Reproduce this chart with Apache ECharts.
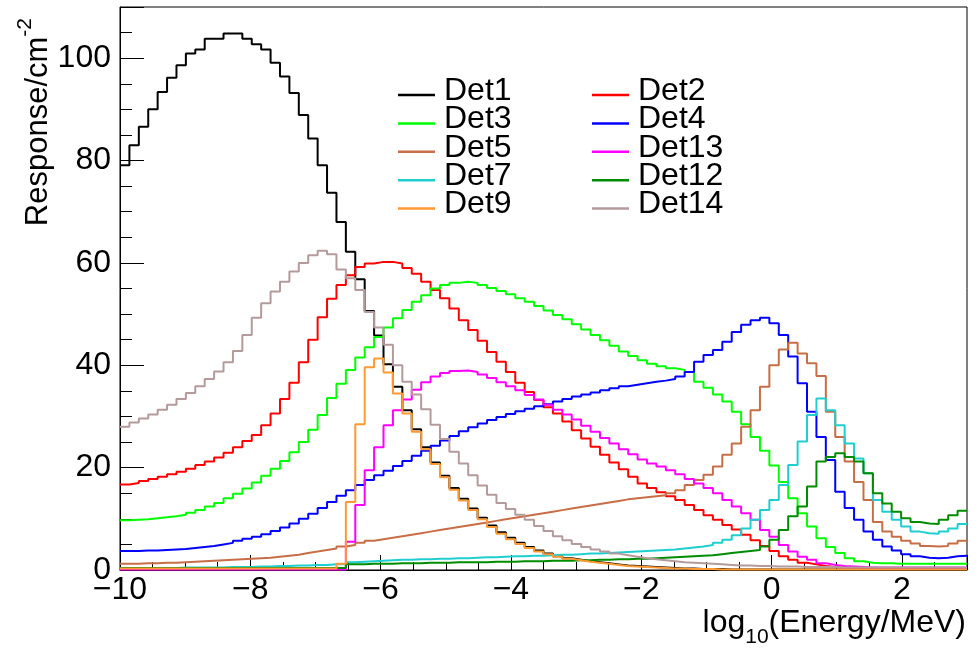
<!DOCTYPE html>
<html>
<head>
<meta charset="utf-8">
<script src="https://cdn.jsdelivr.net/npm/echarts@6/dist/echarts.min.js"></script>
<style>
  html, body { margin: 0; padding: 0; background: #fff; }
  #chart { width: 979px; height: 648px; }
</style>
</head>
<body>
<div id="chart"></div>
<script>
// histogram range: 90 bins from -10 to 3 in log10(E/MeV)
var xMin = -10;
var xMax = 3;

var names = ['Det1', 'Det2', 'Det3', 'Det4', 'Det5', 'Det13', 'Det7', 'Det12', 'Det9', 'Det14'];
var legendLeft = ['Det1', 'Det3', 'Det5', 'Det7', 'Det9'];
var legendRight = ['Det2', 'Det4', 'Det13', 'Det12', 'Det14'];

var det1 = [
  79.1, 83.0, 86.6, 90.0, 93.4, 96.2, 98.6, 100.9, 101.7, 103.8,
  103.8, 104.8, 104.8, 103.8, 102.7, 101.7, 99.1, 96.4, 93.2, 88.9,
  84.3, 79.1, 73.7, 68.0, 62.2, 56.8, 50.6, 45.8, 40.2, 35.8,
  31.2, 27.5, 24.0, 21.0, 18.4, 16.0, 13.9, 12.0, 10.2, 8.7,
  7.4, 6.3, 5.3, 4.5, 3.8, 3.2, 2.7, 2.3, 2.0, 1.7,
  1.5, 1.3, 1.1, 0.9, 0.8, 0.7, 0.6, 0.5, 0.4, 0.3,
  0.3, 0.2, 0.2, 0.2, 0.1, 0.1, 0.1, 0.1, 0.1, 0.1,
  0.1, 0.1, 0.1, 0.1, 0.1, 0.1, 0.1, 0.1, 0.1, 0.1,
  0.1, 0.1, 0.1, 0.1, 0.1, 0.1, 0.1, 0.1, 0.1, 0.1
];
var det2 = [
  16.7, 17.0, 17.4, 17.8, 18.2, 18.7, 19.2, 19.8, 20.5, 21.2,
  22.0, 22.9, 24.0, 25.2, 26.4, 28.3, 30.6, 33.4, 36.6, 40.6,
  45.0, 49.4, 53.0, 55.7, 57.6, 59.2, 59.9, 60.2, 60.2, 59.9,
  59.0, 57.9, 56.3, 54.7, 53.1, 51.1, 48.8, 46.9, 44.8, 42.6,
  40.7, 38.7, 36.6, 34.8, 33.2, 31.8, 30.6, 29.0, 27.3, 25.7,
  24.1, 22.5, 21.0, 19.7, 18.2, 16.9, 16.0, 15.2, 14.4, 13.7,
  12.7, 11.7, 10.7, 9.8, 8.8, 7.9, 6.9, 5.8, 4.7, 3.7,
  2.7, 2.0, 1.4, 1.1, 0.8, 0.6, 0.5, 0.5, 0.4, 0.4,
  0.4, 0.3, 0.3, 0.3, 0.3, 0.3, 0.3, 0.3, 0.3, 0.3
];
var det3 = [
  9.7, 9.8, 9.9, 10.1, 10.3, 10.5, 10.8, 11.2, 11.7, 12.4,
  13.1, 14.0, 14.9, 15.9, 17.1, 18.4, 19.8, 21.3, 23.0, 25.0,
  27.4, 30.3, 33.6, 36.4, 39.1, 41.5, 43.5, 45.5, 47.4, 49.2,
  50.8, 52.4, 53.7, 55.0, 55.7, 56.1, 56.3, 56.1, 55.7, 55.1,
  54.5, 53.9, 53.1, 52.4, 51.6, 50.7, 49.8, 49.0, 48.0, 47.0,
  45.9, 44.9, 43.8, 42.7, 41.8, 41.0, 40.3, 39.8, 39.4, 39.1,
  38.7, 36.8, 35.6, 34.3, 32.9, 30.9, 28.5, 26.0, 23.3, 20.4,
  17.2, 14.0, 11.1, 8.5, 6.2, 4.5, 3.3, 2.3, 1.7, 1.4,
  1.3, 1.3, 1.2, 1.2, 1.2, 1.2, 1.2, 1.2, 1.2, 1.2
];
var det4 = [
  3.7, 3.7, 3.8, 3.8, 3.9, 4.0, 4.1, 4.3, 4.5, 4.7,
  5.0, 5.3, 5.7, 6.1, 6.5, 7.0, 7.6, 8.3, 9.1, 10.0,
  11.0, 12.1, 13.3, 14.5, 15.6, 16.6, 17.6, 18.5, 19.4, 20.3,
  21.3, 22.3, 23.3, 24.3, 25.3, 26.2, 27.1, 27.9, 28.6, 29.3,
  29.9, 30.5, 31.0, 31.5, 32.0, 32.4, 32.9, 33.4, 33.9, 34.3,
  34.7, 35.1, 35.5, 35.9, 36.2, 36.5, 36.8, 37.0, 37.3, 37.8,
  38.7, 40.7, 42.0, 43.0, 44.6, 46.5, 47.9, 48.8, 49.3, 48.2,
  45.9, 41.7, 36.5, 30.9, 26.0, 21.5, 15.3, 12.1, 9.8, 7.5,
  5.9, 4.6, 3.8, 3.1, 2.7, 2.4, 2.3, 2.4, 2.7, 2.8
];
var det5 = [
  1.2, 1.2, 1.3, 1.3, 1.4, 1.4, 1.5, 1.6, 1.7, 1.8,
  1.9, 2.0, 2.1, 2.2, 2.3, 2.4, 2.6, 2.8, 3.0, 3.3,
  3.6, 3.9, 4.2, 4.6, 4.9, 5.3, 5.7, 6.0, 6.3, 6.6,
  6.9, 7.2, 7.5, 7.8, 8.1, 8.4, 8.7, 9.0, 9.3, 9.6,
  9.9, 10.2, 10.5, 10.8, 11.1, 11.4, 11.7, 12.0, 12.3, 12.6,
  12.9, 13.2, 13.5, 13.8, 14.0, 14.2, 14.4, 14.6, 15.0, 15.6,
  16.6, 17.6, 18.6, 20.2, 22.5, 24.7, 28.0, 31.2, 35.8, 40.0,
  43.1, 44.4, 42.3, 40.4, 37.9, 30.9, 26.0, 21.2, 17.2, 13.7,
  9.4, 7.5, 6.5, 5.7, 5.2, 4.7, 4.6, 4.7, 5.2, 5.7
];
var det7 = [
  0.4, 0.4, 0.4, 0.4, 0.4, 0.4, 0.5, 0.5, 0.5, 0.5,
  0.5, 0.6, 0.6, 0.6, 0.7, 0.7, 0.8, 0.8, 0.9, 0.9,
  1.0, 1.0, 1.1, 1.1, 1.5, 1.6, 1.7, 1.8, 1.9, 2.0,
  2.0, 2.1, 2.1, 2.2, 2.2, 2.3, 2.3, 2.4, 2.5, 2.5,
  2.6, 2.7, 2.7, 2.8, 2.8, 2.9, 3.0, 3.0, 3.1, 3.2,
  3.2, 3.3, 3.4, 3.5, 3.6, 3.7, 3.8, 3.9, 4.0, 4.2,
  4.4, 4.6, 4.9, 5.3, 5.9, 6.8, 8.1, 9.8, 11.7, 13.7,
  16.6, 20.5, 25.1, 30.3, 33.5, 31.2, 28.3, 24.7, 21.8, 18.9,
  13.7, 11.4, 9.8, 8.5, 7.5, 7.2, 7.1, 7.5, 8.1, 9.0
];
var det9 = [
  0.3, 0.3, 0.3, 0.3, 0.3, 0.3, 0.3, 0.3, 0.3, 0.3,
  0.3, 0.3, 0.3, 0.3, 0.3, 0.3, 0.3, 0.3, 0.3, 0.3,
  0.3, 0.3, 0.3, 1.2, 13.3, 28.5, 39.6, 41.3, 38.6, 34.5,
  30.6, 27.0, 23.6, 20.7, 18.1, 15.7, 13.6, 11.7, 9.9, 8.4,
  7.1, 6.0, 5.1, 4.3, 3.6, 3.1, 2.6, 2.2, 1.9, 1.6,
  1.4, 1.2, 1.0, 0.8, 0.7, 0.6, 0.5, 0.4, 0.3, 0.3,
  0.2, 0.2, 0.2, 0.1, 0.1, 0.1, 0.1, 0.1, 0.1, 0.1,
  0.1, 0.1, 0.1, 0.1, 0.1, 0.1, 0.1, 0.1, 0.1, 0.1,
  0.1, 0.1, 0.1, 0.1, 0.1, 0.1, 0.1, 0.1, 0.1, 0.1
];
var det12 = [
  0.4, 0.4, 0.4, 0.4, 0.4, 0.4, 0.4, 0.4, 0.4, 0.4,
  0.4, 0.4, 0.4, 0.4, 0.4, 0.4, 0.4, 0.4, 0.4, 0.4,
  0.4, 0.4, 0.4, 0.4, 1.1, 1.1, 1.2, 1.2, 1.2, 1.3,
  1.3, 1.3, 1.4, 1.4, 1.4, 1.5, 1.5, 1.5, 1.5, 1.6,
  1.6, 1.6, 1.7, 1.7, 1.7, 1.8, 1.8, 1.8, 1.9, 1.9,
  2.0, 2.0, 2.1, 2.1, 2.2, 2.2, 2.3, 2.4, 2.5, 2.6,
  2.7, 2.8, 2.9, 3.1, 3.3, 3.5, 3.7, 3.9, 4.6, 5.9,
  7.8, 10.5, 12.4, 16.3, 21.2, 22.1, 22.8, 22.1, 21.2, 18.9,
  15.0, 13.0, 11.4, 10.1, 9.4, 9.1, 9.0, 9.8, 10.7, 11.6
];
var det13 = [
  0.1, 0.1, 0.1, 0.1, 0.1, 0.1, 0.1, 0.1, 0.1, 0.1,
  0.1, 0.1, 0.1, 0.1, 0.1, 0.1, 0.1, 0.1, 0.1, 0.1,
  0.1, 0.1, 0.1, 0.1, 5.5, 12.7, 19.5, 24.0, 28.3, 31.2,
  33.3, 35.2, 36.7, 37.8, 38.5, 38.9, 39.0, 38.7, 38.2, 37.5,
  36.7, 35.9, 35.1, 34.2, 33.3, 32.3, 31.3, 30.4, 29.4, 28.2,
  27.0, 25.8, 24.7, 23.6, 22.6, 21.6, 20.8, 20.2, 19.5, 18.7,
  17.8, 16.9, 16.0, 15.0, 13.7, 12.4, 11.1, 9.8, 7.8, 6.5,
  4.9, 3.6, 2.6, 2.0, 1.3, 1.0, 0.8, 0.7, 0.6, 0.5,
  0.5, 0.5, 0.5, 0.5, 0.5, 0.5, 0.5, 0.5, 0.5, 0.5
];
var det14 = [
  28.0, 28.8, 29.6, 30.4, 31.3, 32.3, 33.4, 34.6, 35.9, 37.3,
  38.8, 40.6, 42.8, 45.9, 49.3, 52.1, 54.4, 56.3, 58.3, 60.0,
  61.5, 62.4, 61.7, 58.7, 57.0, 54.7, 50.4, 47.4, 44.0, 40.0,
  36.8, 34.3, 31.4, 28.4, 25.6, 23.1, 20.8, 18.5, 16.5, 14.7,
  13.1, 11.9, 10.8, 9.8, 8.6, 7.6, 6.6, 5.8, 5.1, 4.5,
  4.0, 3.6, 3.2, 2.9, 2.6, 2.3, 2.1, 1.9, 1.7, 1.5,
  1.4, 1.3, 1.2, 1.1, 1.0, 0.9, 0.9, 0.8, 0.8, 0.7,
  0.7, 0.7, 0.6, 0.6, 0.6, 0.6, 0.5, 0.5, 0.5, 0.5,
  0.5, 0.5, 0.5, 0.5, 0.5, 0.5, 0.5, 0.5, 0.5, 0.5
];

var values = [det1, det2, det3, det4, det5, det13, det7, det12, det9, det14];
var colors = ['#000000', '#ff0000', '#00ff00', '#0000ff', '#c86e46',
              '#ff00ff', '#1fcfcf', '#008c00', '#ff9a33', '#b59a9c'];

var FONT = '"Liberation Sans", Arial, Helvetica, sans-serif';

// bin edges -> step points (last edge repeats last value)
function toSteps(vals) {
  var w = (xMax - xMin) / vals.length;
  var pts = vals.map(function(v, i) { return [xMin + i * w, v]; });
  pts.push([xMax, vals[vals.length - 1]]);
  return pts;
}

function textWidth(t, size) {
  var ctx = document.createElement('canvas').getContext('2d');
  ctx.font = size + 'px ' + FONT;
  return ctx.measureText(t).width;
}

var series = names.map(function(n, k) {
  return {
    name: n,
    type: 'line',
    step: 'end',
    symbol: 'none',
    data: toSteps(values[k]),
    color: colors[k],
    lineStyle: { width: 2, color: colors[k] },
    itemStyle: { color: colors[k] },
    animation: false,
    silent: true
  };
});

// legend marker: a short bar sitting a little below the text middle
var legendIcon = 'path://M0,0 M0,8 L37,8 L37,10.5 L0,10.5 Z';

function legendBlock(data, left) {
  return {
    data: data,
    orient: 'vertical',
    left: left,
    top: 70,
    icon: legendIcon,
    itemWidth: 37,
    itemHeight: 10.5,
    itemGap: -3.6,
    selectedMode: false,
    textStyle: {
      color: '#000',
      fontSize: 32,
      fontFamily: FONT,
      padding: [0, 0, 0, 4]
    }
  };
}

// axis titles (sub/superscripts as separate text pieces)
var wEnergy = textWidth('(Energy/MeV)', 32);
var wTen = textWidth('10', 21);
var wSup = textWidth('-2', 21);

var graphics = [
  { type: 'text', x: 966, y: 623, style: { text: '(Energy/MeV)', font: '32px ' + FONT, fill: '#000', align: 'right', verticalAlign: 'middle', textAlign: 'right', textVerticalAlign: 'middle' } },
  { type: 'text', x: 966 - wEnergy, y: 637, style: { text: '10', font: '21px ' + FONT, fill: '#000', align: 'right', verticalAlign: 'middle', textAlign: 'right', textVerticalAlign: 'middle' } },
  { type: 'text', x: 966 - wEnergy - wTen, y: 623, style: { text: 'log', font: '32px ' + FONT, fill: '#000', align: 'right', verticalAlign: 'middle', textAlign: 'right', textVerticalAlign: 'middle' } },
  { type: 'text', x: 25, y: 18, rotation: Math.PI / 2, style: { text: '-2', font: '21px ' + FONT, fill: '#000', align: 'right', verticalAlign: 'middle', textAlign: 'right', textVerticalAlign: 'middle' } },
  { type: 'text', x: 38, y: 18 + wSup, rotation: Math.PI / 2, style: { text: 'Response/cm', font: '31px ' + FONT, fill: '#000', align: 'right', verticalAlign: 'middle', textAlign: 'right', textVerticalAlign: 'middle' } }
];

var chart = echarts.init(document.getElementById('chart'), null, { renderer: 'canvas' });
chart.setOption({
  animation: false,
  backgroundColor: '#fff',
  grid: {
    left: 120, right: 12, top: 7, bottom: 78,
    show: true, borderColor: '#000', borderWidth: 1, backgroundColor: 'transparent'
  },
  legend: [legendBlock(legendLeft, 393), legendBlock(legendRight, 587)],
  xAxis: [
    {
      type: 'value', min: xMin, max: xMax, interval: 2, position: 'bottom',
      axisLine: { show: true, onZero: false, lineStyle: { color: '#000', width: 1 } },
      axisTick: { show: true, inside: true, length: 15, lineStyle: { color: '#000', width: 1 } },
      axisLabel: {
        color: '#000', fontSize: 32, fontFamily: FONT, margin: 4,
        formatter: function(v) {
          if (v === xMax) return '';
          return v < 0 ? '\u2212' + (-v) : String(v);
        }
      },
      splitLine: { show: false }
    },
    {
      type: 'value', min: xMin, max: xMax, interval: 0.5, position: 'bottom',
      axisLine: { show: false, onZero: false },
      axisTick: { show: true, inside: true, length: 8, lineStyle: { color: '#000', width: 1 } },
      axisLabel: { show: false },
      splitLine: { show: false }
    }
  ],
  yAxis: [
    {
      type: 'value', min: 0, max: 110, interval: 20, position: 'left',
      axisLine: { show: true, onZero: false, lineStyle: { color: '#000', width: 1 } },
      axisTick: { show: true, inside: true, length: 24, lineStyle: { color: '#000', width: 1 } },
      axisLabel: {
        color: '#000', fontSize: 32, fontFamily: FONT, margin: 9,
        formatter: function(v) { return v > 100 ? '' : String(v); }
      },
      splitLine: { show: false }
    },
    {
      type: 'value', min: 0, max: 110, interval: 5, position: 'left',
      axisLine: { show: false, onZero: false },
      axisTick: { show: true, inside: true, length: 12, lineStyle: { color: '#000', width: 1 } },
      axisLabel: { show: false },
      splitLine: { show: false }
    }
  ],
  series: series,
  graphic: graphics
});
</script>
</body>
</html>
